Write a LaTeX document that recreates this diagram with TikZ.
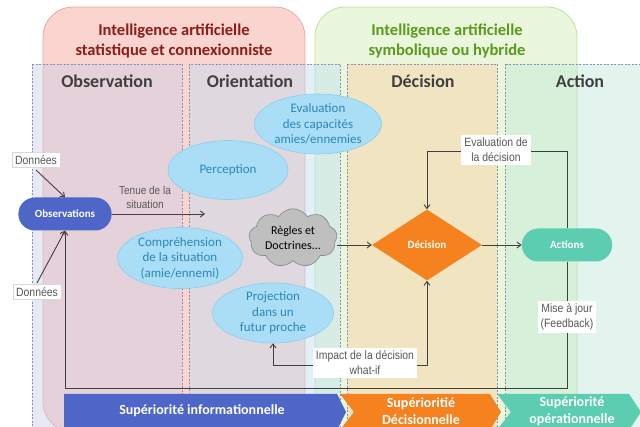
\documentclass[tikz,border=0pt]{standalone}
\usepackage{fontspec}
\setmainfont{Carlito}
\newfontfamily\arialf[FakeStretch=0.87]{Liberation Sans}
\usetikzlibrary{shapes.geometric,shapes.symbols,shapes.misc,arrows.meta}
\definecolor{redfill}{HTML}{FAD5D0}
\definecolor{redline}{HTML}{E9A9A2}
\definecolor{redtext}{HTML}{8C1D18}
\definecolor{greenfill}{HTML}{EAF7DC}
\definecolor{greenline}{HTML}{BFE39B}
\definecolor{greentext}{HTML}{5A9A1C}
\definecolor{obsfill}{HTML}{C8CDE7}
\definecolor{orifill}{HTML}{BCDDF3}
\definecolor{decfill}{HTML}{FBCE9E}
\definecolor{actfill}{HTML}{BCE7D6}
\definecolor{colline}{HTML}{8A8FB5}
\definecolor{headtext}{HTML}{404040}
\definecolor{ellfill}{HTML}{A9DEF6}
\definecolor{ellline}{HTML}{8ACDEB}
\definecolor{elltext}{HTML}{2C87B9}
\definecolor{blueN}{HTML}{4F66C9}
\definecolor{orangeN}{HTML}{F5821F}
\definecolor{tealN}{HTML}{5CCDB0}
\definecolor{cloudfill}{HTML}{BFBFBF}
\definecolor{cloudline}{HTML}{8C8C8C}
\definecolor{linec}{HTML}{404040}
\definecolor{labtext}{HTML}{595959}
\definecolor{labline}{HTML}{D9D9D9}
\begin{document}
\begin{tikzpicture}[x=1pt,y=-1pt,
  container/.style={line width=0.8pt, rounded corners=30pt},
  column/.style={draw=colline, line width=0.6pt, dash pattern=on 2pt off 1.5pt, fill opacity=0.42},
  head/.style={font=\fontsize{18}{20}\selectfont\bfseries, text=headtext},
  ctitle/.style={font=\fontsize{16.5}{20}\selectfont\bfseries, align=center},
  ell/.style={ellipse, draw=ellline, fill=ellfill, line width=0.6pt, text=elltext,
    font=\fontsize{13}{15.5}\selectfont, align=center, inner sep=0pt},
  lab/.style={fill=white, text=labtext, font=\arialf\fontsize{12}{15}\selectfont, align=center, inner sep=3pt},
  conn/.style={draw=linec, line width=0.9pt},
  tip/.style={-{Straight Barb[length=4pt,width=6pt]}},
  pill/.style={rounded rectangle, text=white, font=\fontsize{11}{13}\selectfont\bfseries},
  chevtext/.style={text=white, font=\fontsize{14}{17}\selectfont\bfseries, align=center}
]
\clip (0,0) rectangle (640,427);
\fill[white] (0,0) rectangle (640,427);

% containers
\draw[container, draw=redline, fill=redfill] (43,7) rectangle (305,432);
\draw[container, draw=greenline, fill=greenfill] (315,7) rectangle (577,432);

% columns
\draw[column, fill=obsfill] (32,64) rectangle (182,440);
\draw[column, fill=orifill] (189,64) rectangle (340,440);
\draw[column, fill=decfill] (347,64) rectangle (497,440);
\draw[column, fill=actfill] (505,64) rectangle (650,440);

% titles
\node[ctitle, text=redtext] (t1) at (174,41) {Intelligence artificielle\\statistique et connexionniste};
\node[ctitle, text=greentext] (t2) at (447,41) {Intelligence artificielle\\symbolique ou hybride};
\node[head] (h1) at (107,81) {Observation};
\node[head] (h2) at (250,81) {Orientation};
\node[head] (h3) at (423,81) {Décision};
\node[head] (h4) at (580,81) {Action};

% main nodes
\node[pill, fill=blueN, minimum width=100pt, minimum height=33pt] (obs) at (65,214) {Observations};
\node[diamond, fill=orangeN, text=white, font=\fontsize{11}{13}\selectfont\bfseries,
  minimum width=110pt, minimum height=71pt, inner sep=0pt] (dec) at (427,245) {Décision};
\node[pill, fill=tealN, minimum width=97pt, minimum height=33pt] (act) at (567,245) {Actions};
\node[cloud, cloud puffs=9, cloud puff arc=115, aspect=1.7, draw=cloudline, fill=cloudfill,
  line width=0.7pt, minimum width=88pt, minimum height=52pt, inner sep=0pt, align=center,
  font=\fontsize{12}{15}\selectfont] (cloud) at (293,238) {Règles et\\Doctrines...};

\node[ell, minimum width=120pt, minimum height=59pt] (perc) at (228,170) {Perception};
\node[ell, minimum width=127pt, minimum height=60pt] (eval) at (318,124) {Evaluation\\des capacités\\amies/ennemies};
\node[ell, minimum width=125pt, minimum height=61pt] (comp) at (180,258) {Compréhension\\de la situation\\(amie/ennemi)};
\node[ell, minimum width=121pt, minimum height=60pt] (proj) at (273,313) {Projection\\dans un\\futur proche};

% coordinates
\coordinate (don1) at (36,170);
\coordinate (don2) at (37,283);
\coordinate (tenueEnd) at (205,214);
\coordinate (cloudOut) at (337,245);
\coordinate (evalTop) at (567,151);
\coordinate (evalLeft) at (427,151);
\coordinate (fbBot) at (567,388);
\coordinate (fbLeft) at (65,388);
\coordinate (impL) at (273,365);
\coordinate (impR) at (427,365);

% connectors
\draw[conn, tip] (don1) -- (obs.north);
\draw[conn, tip] (don2) -- (obs.south);
\draw[conn, tip] (obs.east) -- (tenueEnd);
\draw[conn, tip] (cloudOut) -- (dec.west);
\draw[conn, tip] (dec.east) -- (act.west);
\draw[conn, tip] (act.north) -- (evalTop) -- (evalLeft) -- (dec.north);
\draw[conn, tip] (act.south) -- (fbBot) -- (fbLeft) -- (obs.south);
\draw[conn, {Straight Barb[length=4pt,width=6pt]}-{Straight Barb[length=4pt,width=6pt]}] (proj.south) -- (impL) -- (impR) -- (dec.south);

% labels
\node[lab, draw=labline, line width=0.5pt] (d1) at (36,160) {Données};
\node[lab, draw=labline, line width=0.5pt] (d2) at (37,292) {Données};
\node[text=labtext, font=\arialf\fontsize{11.5}{14}\selectfont, align=center] (tenue) at (145,197) {Tenue de la\\situation};
\node[lab] (levald) at (496,150) {Evaluation de\\la décision};
\node[lab] (lmaj) at (567,317) {Mise à jour\\(Feedback)};
\node[lab] (limp) at (365,363) {Impact de la décision\\what-if};

% bottom chevrons
\fill[blueN] (64,394) -- (337,394) -- (346,412) -- (337,430) -- (64,430) -- cycle;
\fill[orangeN] (340,394) -- (490,394) -- (501,412) -- (490,430) -- (340,430) -- (354,412) -- cycle;
\fill[tealN] (497,394) -- (629,394) -- (641,412) -- (629,430) -- (497,430) -- (511,412) -- cycle;
\node[chevtext] (s1) at (202,411) {Supériorité informationnelle};
\node[chevtext] (s2) at (421,411.5) {Supérioritié\\Décisionnelle};
\node[chevtext] (s3) at (572,411.5) {Supériorité\\opérationnelle};
\end{tikzpicture}
\end{document}
